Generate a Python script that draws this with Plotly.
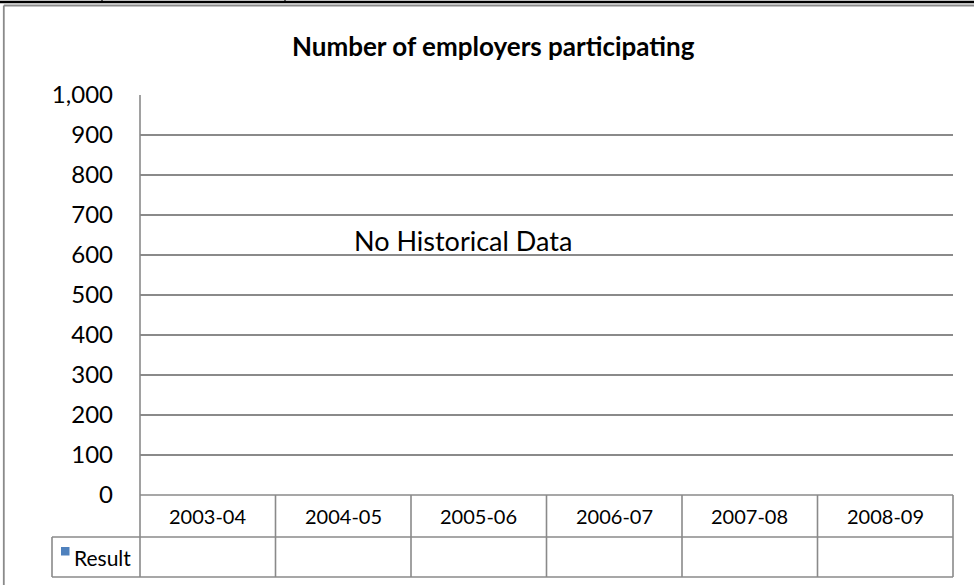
import plotly.graph_objects as go

categories = ["2003-04", "2004-05", "2005-06", "2006-07", "2007-08", "2008-09"]
result_values = [None, None, None, None, None, None]
series_name = "Result"
y_ticks = [0, 100, 200, 300, 400, 500, 600, 700, 800, 900, 1000]
title_text = "Number of employers participating"
note_text = "No Historical Data"

FONT = "Lato"
GRID = "#8a8a8a"

fig = go.Figure()
fig.add_trace(go.Bar(x=categories, y=result_values, name=series_name,
                     marker_color="#4F81BD", showlegend=False))

# plot area: x 140..953, y 95..495 (px)
L, R, T, B = 140, 953, 95, 495
W, H = 974, 585
pw, ph = R - L, B - T

def px(xp):
    return (xp - L) / pw

def py(yp):
    return (B - yp) / ph

n = len(categories)
hdr_bot = py(537)
res_bot = py(577)
res_left = px(52)

shapes = []
line = dict(color=GRID, width=1.6)
# vertical column boundaries in the data table
for i in range(n + 1):
    y1 = 1 if i == 0 else 0
    shapes.append(dict(type="line", xref="x domain", yref="paper",
                       x0=i / n, x1=i / n, y0=res_bot, y1=y1, line=line))
shapes.append(dict(type="line", xref="paper", yref="paper",
                   x0=0, x1=1, y0=0, y1=0, line=line))
shapes.append(dict(type="line", xref="paper", yref="paper",
                   x0=res_left, x1=1, y0=hdr_bot, y1=hdr_bot, line=line))
shapes.append(dict(type="line", xref="paper", yref="paper",
                   x0=res_left, x1=1, y0=res_bot, y1=res_bot, line=line))
shapes.append(dict(type="line", xref="paper", yref="paper",
                   x0=res_left, x1=res_left, y0=hdr_bot, y1=res_bot, line=line))
# legend key square
shapes.append(dict(type="rect", xref="paper", yref="paper",
                   x0=px(61), x1=px(69.5), y0=py(547), y1=py(555.5),
                   fillcolor="#4F81BD", line=dict(width=0)))
# chart outer border
shapes.append(dict(type="line", xref="paper", yref="paper",
                   x0=px(3.8), x1=px(980), y0=py(5.5), y1=py(5.5),
                   line=dict(color="#8a8a8a", width=1.8)))
shapes.append(dict(type="line", xref="paper", yref="paper",
                   x0=px(3.8), x1=px(3.8), y0=py(5.5), y1=py(600),
                   line=dict(color="#8a8a8a", width=1.8)))
# document table border at top
shapes.append(dict(type="line", xref="paper", yref="paper",
                   x0=px(-5), x1=px(980), y0=py(2), y1=py(2),
                   line=dict(color="#000000", width=2.4)))
for xv in (102, 285):
    shapes.append(dict(type="line", xref="paper", yref="paper",
                       x0=px(xv), x1=px(xv), y0=py(-2), y1=py(2),
                       line=dict(color="#000000", width=1.2)))

annotations = []
for c in categories:
    annotations.append(dict(x=c, xref="x", y=(0 + hdr_bot) / 2, yref="paper",
                            text=c, showarrow=False, xanchor="center", yanchor="middle",
                            font=dict(family=FONT, size=20, color="#000000")))
annotations.append(dict(x=px(72), y=(hdr_bot + res_bot) / 2, xref="paper", yref="paper",
                        text=series_name, showarrow=False, xanchor="left", yanchor="middle",
                        font=dict(family=FONT, size=21, color="#000000")))
annotations.append(dict(x=px(463), y=637, xref="paper", yref="y",
                        text=note_text, showarrow=False, xanchor="center", yanchor="middle",
                        font=dict(family=FONT, size=27, color="#000000")))
annotations.append(dict(x=px(493), y=py(46), xref="paper", yref="paper",
                        text="<b>" + title_text + "</b>", showarrow=False,
                        xanchor="center", yanchor="middle",
                        font=dict(family=FONT, size=26, color="#000000")))

fig.update_layout(
    width=W, height=H,
    margin=dict(l=L, r=W - R, t=T, b=H - B),
    paper_bgcolor="white", plot_bgcolor="white",
    showlegend=False,
    shapes=shapes, annotations=annotations,
    xaxis=dict(type="category", showticklabels=False, showgrid=False,
               zeroline=False, showline=False, ticks=""),
    yaxis=dict(range=[0, 1000], tickvals=y_ticks, tickformat=",",
               showgrid=True, gridcolor=GRID, gridwidth=1.6,
               zeroline=False, showline=False, ticks="",
               ticklabelstandoff=26,
               tickfont=dict(family=FONT, size=24, color="#000000")),
)

fig.write_html("out.html", config={"displayModeBar": False},
               post_script="document.body.style.margin='0';")
